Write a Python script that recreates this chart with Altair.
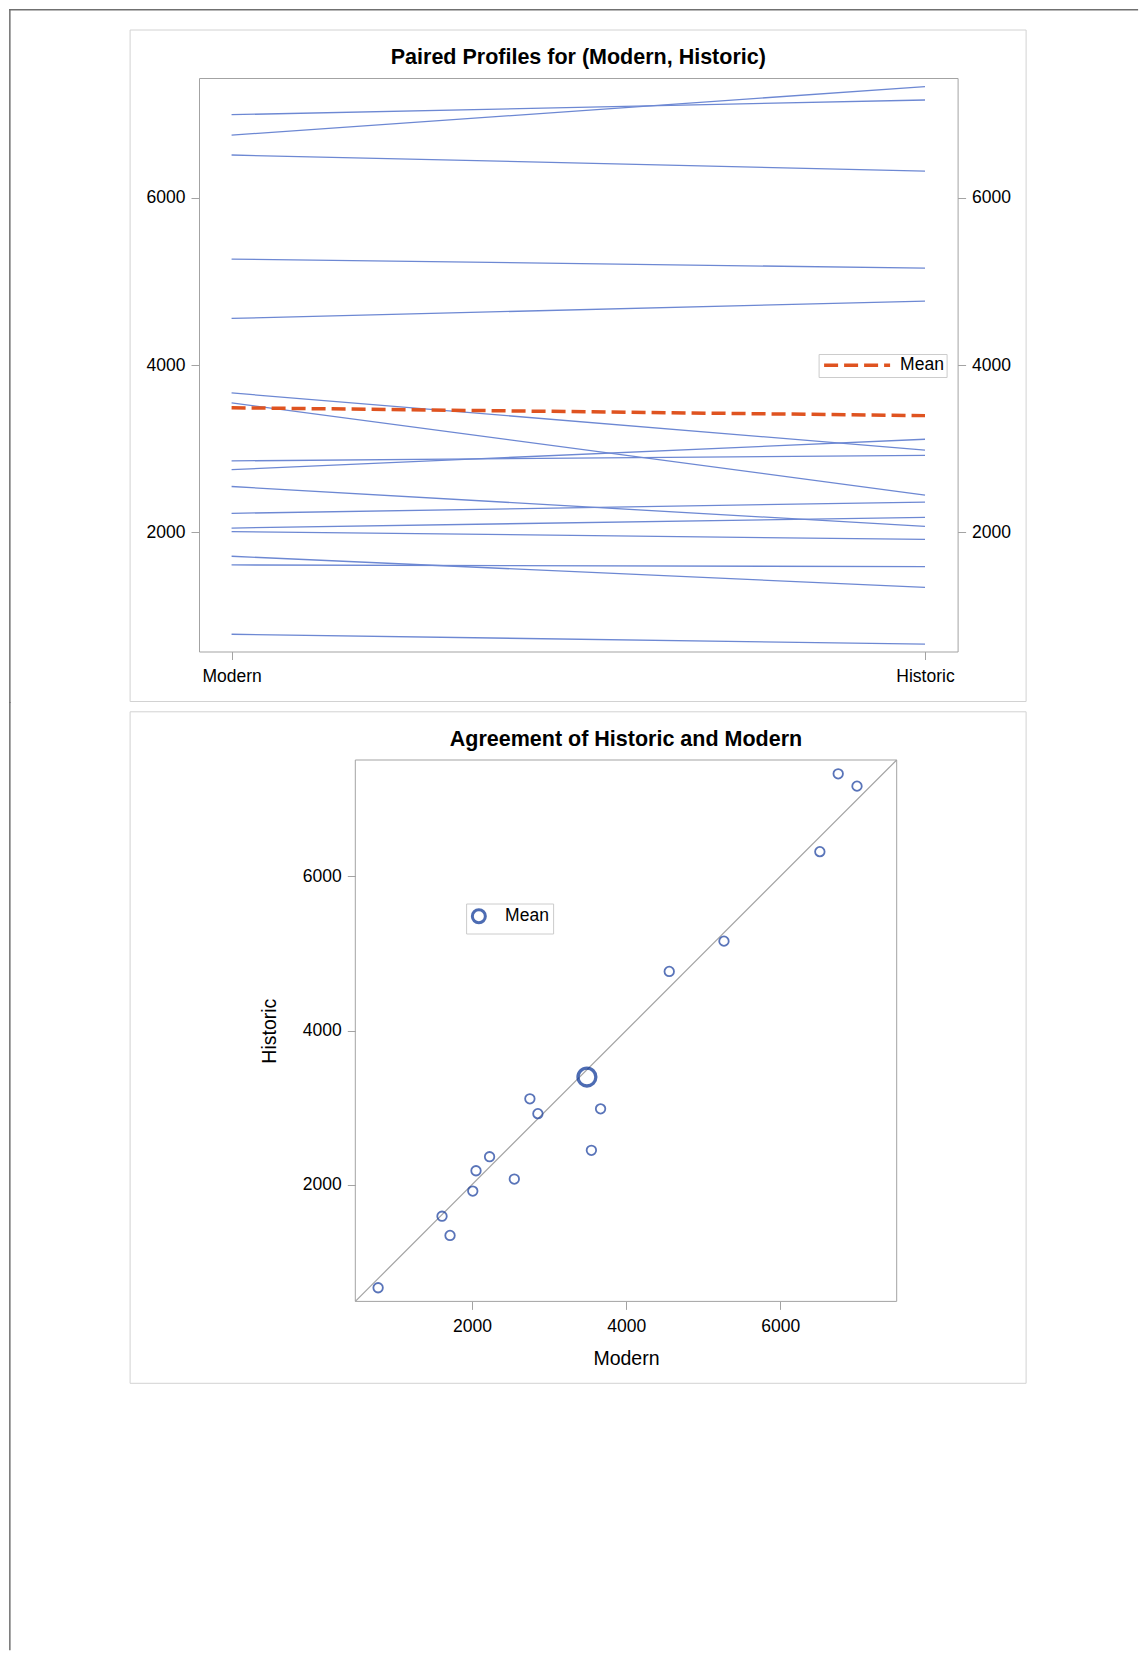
import altair as alt
import pandas as pd

# ---- data ----
SUBJECTS = list(range(1, 17))
MODERN = [6995, 6751, 6513, 5269, 4559, 3668, 3549, 2855, 2751, 2549, 2228, 2052, 2010, 1715, 1611, 782]
HISTORIC = [7171, 7331, 6321, 5160, 4767, 2984, 2446, 2922, 3114, 2073, 2363, 2181, 1917, 1342, 1591, 663]
TIMES = ["Modern", "Historic"]
Y_TICKS = [2000, 4000, 6000]
TOP_Y_DOMAIN = [576, 7434]
SCATTER_DOMAIN = [486, 7510]
TOP_TITLE = "Paired Profiles for (Modern, Historic)"
BOTTOM_TITLE = "Agreement of Historic and Modern"

FONT = "Liberation Sans"
LINE_BLUE = "#6d88d3"
ORANGE = "#df5320"
PT_BLUE = "#143a9c"
MEAN_BLUE = "#032f94"
DIAG = "#a3a3a3"
FRAME = "#a3a3a3"
PANEL = "#d2d2d2"
PAGE = "#707070"
LEG_BORDER = "#cccccc"

long_rows = []
for sid, m, h in zip(SUBJECTS, MODERN, HISTORIC):
    long_rows.append({"id": sid, "time": "Modern", "order": 0, "value": m})
    long_rows.append({"id": sid, "time": "Historic", "order": 1, "value": h})
long_df = pd.DataFrame(long_rows)
wide_df = pd.DataFrame({"Modern": MODERN, "Historic": HISTORIC})
one = pd.DataFrame({"k": [0]})

# decoration geometry (pixels relative to the top plot's left edge)
PAGE_X0, PAGE_X1 = -189.9, -188.4
BOX_X0, BOX_X1 = 129 - 197.9, 1025 - 197.9

# ---- top panel ----
TW, TH = 758.6, 573.5
x_top_scale = alt.Scale(type="point", domain=TIMES, padding=0.047)
y_top_scale = alt.Scale(domain=TOP_Y_DOMAIN, nice=False, zero=False)
x_top_axis = alt.Axis(labelAngle=0, domain=False, grid=False, tickSize=8, tickColor=FRAME,
                      labelPadding=8, labelFont=FONT, labelFontSize=17.5, labelColor="black")


def y_axis(orient):
    return alt.Axis(orient=orient, values=Y_TICKS, format="d", domain=False, grid=False,
                    tickSize=8, tickColor=FRAME, labelPadding=6, labelFont=FONT,
                    labelFontSize=17.5, labelColor="black")


top_box = alt.Chart(one).mark_rect(fillOpacity=0, stroke=PANEL, strokeWidth=1).encode(
    x=alt.value(BOX_X0), x2=alt.value(BOX_X1),
    y=alt.value(29 - 77), y2=alt.value(700.5 - 77))
page_h = alt.Chart(one).mark_rect(color=PAGE).encode(
    x=alt.value(PAGE_X0), x2=alt.value(939.1), y=alt.value(-69), y2=alt.value(-67.5))
page_v_top = alt.Chart(one).mark_rect(color=PAGE).encode(
    x=alt.value(PAGE_X0), x2=alt.value(PAGE_X1), y=alt.value(-69), y2=alt.value(625))

lines = alt.Chart(long_df).mark_line(color=LINE_BLUE, strokeWidth=1.3).encode(
    x=alt.X("time:N", scale=x_top_scale, axis=x_top_axis, title=None),
    y=alt.Y("value:Q", scale=y_top_scale, axis=y_axis("left"), title=None),
    detail="id:N",
    order="order:Q",
)

top_legend = alt.Legend(orient="none", legendX=619.6, legendY=276, title=None,
                        symbolType="M-0.885,0H9.269", symbolSize=169, symbolStrokeWidth=3.5,
                        symbolDash=[14, 6], padding=2.5, labelOffset=61.5, labelFont=FONT,
                        labelFontSize=17.5, labelColor="black", strokeColor=LEG_BORDER,
                        fillColor="white")

mean_line = alt.Chart(long_df).transform_aggregate(
    mean_value="mean(value)", groupby=["time", "order"]
).transform_calculate(series="'Mean'").mark_line(strokeDash=[14, 6], strokeWidth=3.5).encode(
    x=alt.X("time:N", scale=x_top_scale, axis=x_top_axis, title=None),
    y=alt.Y("mean_value:Q", scale=y_top_scale, axis=y_axis("right"), title=None),
    order="order:Q",
    color=alt.Color("series:N", scale=alt.Scale(domain=["Mean"], range=[ORANGE]), legend=top_legend),
)

top = alt.layer(top_box, page_h, page_v_top, lines, mean_line).resolve_axis(
    y="independent"
).properties(
    width=TW, height=TH,
    title=alt.TitleParams(TOP_TITLE, font=FONT, fontSize=21.5, fontWeight="bold",
                          color="black", anchor="middle", offset=-59.8),
)

# ---- bottom panel (plot area shifted right inside a wider view) ----
SHIFT = 354.2 - 197.9
BW, BH = 541.4, 541.4
sx = alt.Scale(domain=SCATTER_DOMAIN, nice=False, zero=False, range=[SHIFT, SHIFT + BW])
sy = alt.Scale(domain=SCATTER_DOMAIN, nice=False, zero=False)
x_b_axis = alt.Axis(values=Y_TICKS, format="d", domain=False, grid=False, tickSize=8,
                    tickColor=FRAME, labelPadding=8, labelFont=FONT, labelFontSize=17.5,
                    labelColor="black", title="Modern", titleFont=FONT, titleFontSize=19.5,
                    titleFontWeight="normal", titleColor="black", titlePadding=14.8)
y_b_axis = alt.Axis(values=Y_TICKS, format="d", domain=False, grid=False, tickSize=8,
                    tickColor=FRAME, labelPadding=6, labelFont=FONT, labelFontSize=17.5,
                    labelColor="black", title="Historic", titleFont=FONT, titleFontSize=19.5,
                    titleFontWeight="normal", titleColor="black", titlePadding=22.5,
                    offset=-SHIFT)

bottom_box = alt.Chart(one).mark_rect(fillOpacity=0, stroke=PANEL, strokeWidth=1).encode(
    x=alt.value(BOX_X0), x2=alt.value(BOX_X1),
    y=alt.value(711.5 - 759.7), y2=alt.value(1383 - 759.7))
page_v_bottom = alt.Chart(one).mark_rect(color=PAGE).encode(
    x=alt.value(PAGE_X0), x2=alt.value(PAGE_X1), y=alt.value(-58), y2=alt.value(890.3))

frame = alt.Chart(one).mark_rect(fillOpacity=0, stroke=FRAME, strokeWidth=1).encode(
    x=alt.XDatum(SCATTER_DOMAIN[0], scale=sx, axis=x_b_axis, title="Modern"),
    x2=alt.X2Datum(SCATTER_DOMAIN[1]),
    y=alt.YDatum(SCATTER_DOMAIN[0], scale=sy, axis=y_b_axis, title="Historic"),
    y2=alt.Y2Datum(SCATTER_DOMAIN[1]),
)
diag = alt.Chart(pd.DataFrame({"v": SCATTER_DOMAIN})).mark_line(color=DIAG, strokeWidth=1.2).encode(
    x=alt.X("v:Q", scale=sx, axis=x_b_axis, title="Modern"),
    y=alt.Y("v:Q", scale=sy, axis=y_b_axis, title="Historic"),
)
pts = alt.Chart(wide_df).mark_point(filled=False, size=90, strokeWidth=1.8, color=PT_BLUE).encode(
    x=alt.X("Modern:Q", scale=sx, axis=x_b_axis, title="Modern"),
    y=alt.Y("Historic:Q", scale=sy, axis=y_b_axis, title="Historic"),
)
bottom_legend = alt.Legend(orient="none", legendX=SHIFT + 110.8, legendY=143.5, title=None,
                           symbolType="circle", symbolSize=169, symbolStrokeWidth=3,
                           padding=4, labelOffset=17.5, labelFont=FONT, labelFontSize=17.5,
                           labelColor="black", strokeColor=LEG_BORDER, fillColor="white")
mean_pt = alt.Chart(wide_df).transform_aggregate(
    Modern="mean(Modern)", Historic="mean(Historic)"
).transform_calculate(series="'Mean'").mark_point(filled=False, size=320, strokeWidth=3.3).encode(
    x=alt.X("Modern:Q", scale=sx, axis=x_b_axis, title="Modern"),
    y=alt.Y("Historic:Q", scale=sy, axis=y_b_axis, title="Historic"),
    color=alt.Color("series:N", scale=alt.Scale(domain=["Mean"], range=[MEAN_BLUE]), legend=bottom_legend),
)

bottom = alt.layer(bottom_box, page_v_bottom, frame, diag, pts, mean_pt).properties(
    width=SHIFT + BW, height=BH,
    view=alt.ViewBackground(stroke="transparent"),
    title=alt.TitleParams(BOTTOM_TITLE, font=FONT, fontSize=21.5, fontWeight="bold",
                          color="black", anchor="middle", offset=-48.8,
                          dx=SHIFT + BW / 2 - (SHIFT + BW) / 2),
)

chart = alt.vconcat(top, bottom, spacing=-3).resolve_scale(
    color="independent"
).resolve_legend(color="independent").properties(padding=0).configure_view(
    stroke=FRAME, strokeWidth=1
)

chart.save("out.html", embed_options={"renderer": "svg", "actions": False})
